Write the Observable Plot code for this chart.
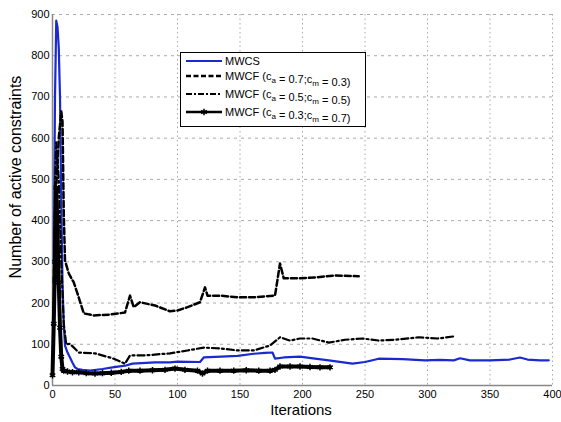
<!DOCTYPE html>
<html><head><meta charset="utf-8">
<script src="https://cdn.jsdelivr.net/npm/d3@7"></script>
<script src="https://cdn.jsdelivr.net/npm/@observablehq/plot@0.6"></script>
<style>body{margin:0;background:#fff} svg{display:block}</style>
</head><body><div id="chart"></div>
<script>
const xTicks = [0, 50, 100, 150, 200, 250, 300, 350, 400];
const yTicks = [0, 100, 200, 300, 400, 500, 600, 700, 800, 900];
const seriesNames = ["MWCS", "MWCF (c_a = 0.7;c_m = 0.3)", "MWCF (c_a = 0.5;c_m = 0.5)", "MWCF (c_a = 0.3;c_m = 0.7)"];

// MWCS (blue solid)
const mwcsX = [1,2,3,4,5,6,7,8,9,10,12,14,16,18,20,24,30,40,48,58,64,82,94,100,118,121,135,148,161,170,176,178,185,198,210,221,240,250,261,280,298,310,321,326,334,350,366,374,380,390,397];
const mwcsY = [300,700,885,870,820,700,450,250,150,97,80,68,55,44,40,38,36,40,44,48,53,56,56,58,57,68,70,72,77,79,80,65,68,70,65,61,53,57,65,64,61,62,61,66,61,61,63,68,63,61,61];

// MWCF ca=0.7 cm=0.3 (dashed)
const f73X = [1,3,5,7,8,9,10,13,17,20,25,33,46,58,62,65,70,82,94,100,108,118,122,124,134,148,161,178,182,185,198,210,226,245];
const f73Y = [250,480,600,665,640,420,303,272,250,223,175,170,172,177,218,190,202,194,180,182,190,202,238,218,218,214,214,218,296,260,260,262,267,265];

// MWCF ca=0.5 cm=0.5 (dash-dot)
const f55X = [1,2,3,5,7,9,11,14,21,34,48,58,62,74,94,98,108,121,134,148,161,174,182,190,198,208,221,234,248,261,274,293,308,321];
const f55Y = [150,480,590,500,300,150,100,101,80,78,66,53,73,73,78,80,85,92,90,85,85,97,117,109,114,114,104,111,114,109,111,117,114,119];

// MWCF ca=0.3 cm=0.7 (solid with asterisks)
const f37X = [0,1,2,3,4,5,6,7,8,9,12,16,21,27,34,40,47,55,61,70,80,90,98,106,116,120,124,134,145,155,165,174,178,182,190,198,206,214,222];
const f37Y = [25,150,300,480,380,250,140,70,40,36,34,32,32,30,29,30,31,33,36,36,37,38,41,38,36,29,36,36,36,37,36,36,38,46,46,46,45,44,44];

const rows = (xs, ys) => xs.map((x, i) => ({x, y: ys[i]}));
const blue = "#1a2ad0";

const chart = Plot.plot({
  width: 561, height: 422,
  marginLeft: 52, marginRight: 9, marginTop: 14, marginBottom: 37,
  style: {fontFamily: "'Liberation Sans', Arial, sans-serif", fontSize: "11px", background: "#fff", color: "#000"},
  x: {domain: [0, 400], ticks: xTicks, tickSize: 0, tickPadding: 5, label: null},
  y: {domain: [0, 900], ticks: yTicks, tickSize: 0, tickPadding: 3, label: null},
  marks: [
    Plot.gridX(xTicks, {stroke: "#aaa", strokeOpacity: 1, strokeDasharray: "1.5,3"}),
    Plot.gridY(yTicks, {stroke: "#aaa", strokeOpacity: 1, strokeDasharray: "3,4"}),
    Plot.ruleX([0], {stroke: "#888", strokeWidth: 1.5}),
    Plot.ruleY([0], {stroke: "#888", strokeWidth: 1.5}),
    Plot.line(rows(mwcsX, mwcsY), {x: "x", y: "y", stroke: blue, strokeWidth: 2.2}),
    Plot.line(rows(f73X, f73Y), {x: "x", y: "y", stroke: "#000", strokeWidth: 2.5, strokeDasharray: "6,3"}),
    Plot.line(rows(f55X, f55Y), {x: "x", y: "y", stroke: "#000", strokeWidth: 2.2, strokeDasharray: "7,3,2,3"}),
    Plot.line(rows(f37X, f37Y), {x: "x", y: "y", stroke: "#000", strokeWidth: 4}),
    Plot.dot(rows(f37X, f37Y), {x: "x", y: "y", symbol: "asterisk", r: 3, stroke: "#000", strokeWidth: 1.5})
  ]
});
document.getElementById("chart").append(chart);

const svg = d3.select(chart);
// axis titles
svg.append("text").attr("transform", "translate(21,177) rotate(-90)")
  .attr("text-anchor", "middle").attr("font-size", 16).attr("fill", "#000")
  .text("Number of active constraints");
svg.append("text").attr("x", 301).attr("y", 415)
  .attr("text-anchor", "middle").attr("font-size", 15).attr("fill", "#000")
  .text("Iterations");

// legend
const lg = svg.append("g").attr("text-anchor", "start");
lg.append("rect").attr("x", 180.5).attr("y", 52.5).attr("width", 185).attr("height", 74)
  .attr("fill", "#fff").attr("stroke", "#000").attr("stroke-width", 1);
const ly = [61, 76, 94, 112];
const styles = [
  {stroke: blue, w: 2.2, dash: null},
  {stroke: "#000", w: 2.5, dash: "5,2.5"},
  {stroke: "#000", w: 2.2, dash: "6,2,2,2"},
  {stroke: "#000", w: 2.5, dash: null, marker: true}
];
seriesNames.forEach((name, i) => {
  const s = styles[i];
  const l = lg.append("line").attr("x1", 186).attr("x2", 222).attr("y1", ly[i]).attr("y2", ly[i])
    .attr("stroke", s.stroke).attr("stroke-width", s.w);
  if (s.dash) l.attr("stroke-dasharray", s.dash);
  if (s.marker) {
    lg.append("path").attr("transform", `translate(204,${ly[i]})`)
      .attr("d", d3.symbol(d3.symbolAsterisk, 30)()).attr("stroke", "#000").attr("stroke-width", 1.5).attr("fill", "none");
  }
  const t = lg.append("text").attr("x", 225).attr("y", ly[i] + 4).attr("font-size", 11)
    .attr("fill", "#000").attr("text-anchor", "start");
  const parts = name.split(/(c_[am])/);
  parts.forEach(p => {
    if (p.startsWith("c_")) {
      t.append("tspan").text("c");
      t.append("tspan").attr("dy", 3).attr("font-size", 8).text(p.slice(2));
      t.append("tspan").attr("dy", -3).text("");
    } else if (p) {
      t.append("tspan").text(p);
    }
  });
});
</script>
</body></html>
